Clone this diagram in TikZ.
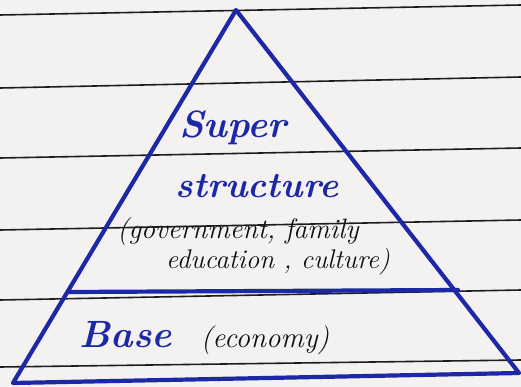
\documentclass[tikz,border=0pt]{standalone}
\usepackage{fontspec}
\begin{document}
\definecolor{paper}{RGB}{244,241,241}
\definecolor{rule}{RGB}{30,28,28}
\definecolor{ink}{RGB}{28,40,165}
\definecolor{pen}{RGB}{15,14,16}
\begin{tikzpicture}[x=1pt,y=-1pt,
  ruling/.style={draw=rule,line width=1.6pt},
  edge/.style={draw=ink,line width=4.2pt,line join=round,line cap=round},
  title/.style={inner sep=0pt,text=ink},
  note/.style={inner sep=0pt,text=pen}]
  % sheet of lined paper
  \fill[paper] (0,0) rectangle (521,387);
  \useasboundingbox (0,0) rectangle (521,387);
  \draw[ruling] (0,15) -- (521,5);
  \draw[ruling] (0,88) -- (521,77);
  \draw[ruling] (0,158) -- (521,148);
  \draw[ruling] (0,230) -- (521,220);
  \draw[ruling] (0,300) -- (521,290);
  \draw[ruling] (0,367) -- (521,360);
  % pyramid corners
  \coordinate (apex) at (236,10);
  \coordinate (bl) at (13,383);
  \coordinate (br) at (519,373);
  \coordinate (dl) at (69,292);
  \coordinate (dr) at (458,290);
  \draw[edge] (apex) -- (br) -- (bl) -- cycle;
  \draw[edge] (dl) -- (dr);
  % upper tier
  \node[title,font=\bfseries\itshape\fontsize{38}{40}\selectfont\addfontfeatures{FakeBold=1}] (super) at (233,128) {Super};
  \node[title,font=\bfseries\itshape\fontsize{36}{40}\selectfont\addfontfeatures{FakeBold=1}] (struct) at (257,186) {structure};
  \node[note,font=\itshape\fontsize{28}{30}\selectfont\addfontfeatures{FakeBold=1}] (gov) at (238,232) {(government, family};
  \node[note,font=\itshape\fontsize{27}{30}\selectfont\addfontfeatures{FakeBold=1}] (edu) at (278,262) {education , culture)};
  % lower tier
  \node[title,font=\bfseries\itshape\fontsize{38}{40}\selectfont\addfontfeatures{FakeBold=1}] (base) at (126,335) {Base};
  \node[note,font=\itshape\fontsize{29}{30}\selectfont\addfontfeatures{FakeBold=1}] (econ) at (265,340) {(economy)};
\end{tikzpicture}
\end{document}
